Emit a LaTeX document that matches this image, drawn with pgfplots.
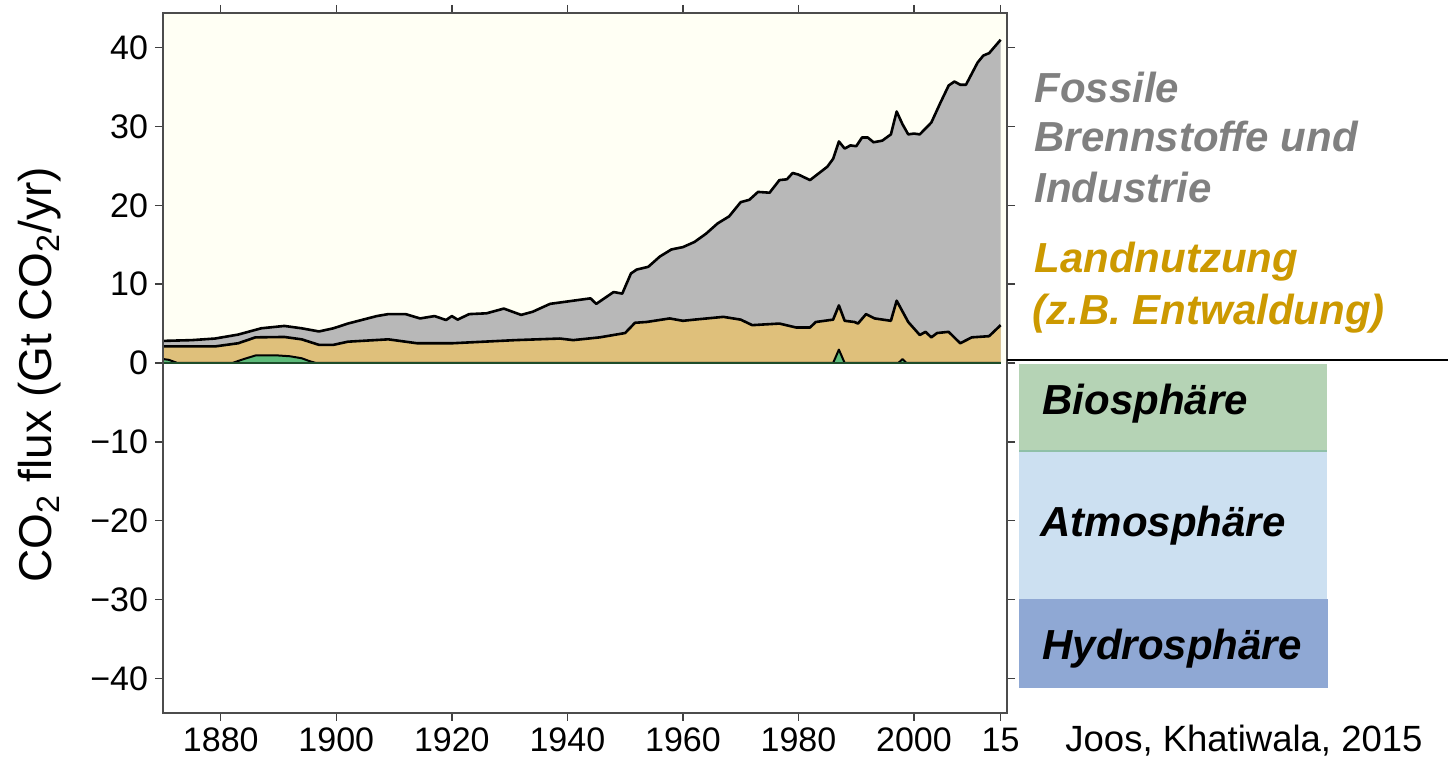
\documentclass[border=0pt]{standalone}
\usepackage{pgfplots}
\pgfplotsset{compat=1.18}
\usepackage{pgfplotstable}
\usepackage{fontspec}
\setmainfont{Liberation Sans}
\definecolor{cream}{HTML}{FFFFF4}
\definecolor{fossil}{HTML}{B8B8B8}
\definecolor{landc}{HTML}{DFC07B}
\definecolor{bioc}{HTML}{5DBB7A}
\definecolor{basec}{HTML}{1E4D2B}
\definecolor{textgray}{HTML}{808080}
\definecolor{gold}{HTML}{CC9900}
\definecolor{boxgreen}{HTML}{B5D3B5}
\definecolor{boxlblue}{HTML}{CCE0F1}
\definecolor{boxblue}{HTML}{8FA8D4}
\definecolor{boxline}{HTML}{8FC0A8}

% total flux (fossil + land use + biosphere)
\pgfplotstableread{
year val
1870 2.8
1875 2.9
1879 3.1
1883 3.6
1887 4.4
1891 4.7
1894 4.4
1897 4.0
1899.5 4.4
1902 5.0
1907 5.95
1909 6.2
1912 6.2
1914.5 5.65
1917 5.95
1919 5.45
1920 5.95
1921 5.5
1923 6.2
1926 6.3
1929 6.9
1932 6.1
1934 6.5
1937 7.5
1940 7.8
1942 8.0
1944 8.2
1945 7.5
1948 9.0
1949.5 8.8
1951 11.35
1952 11.85
1954 12.2
1956 13.5
1958 14.4
1960 14.7
1962 15.35
1964 16.4
1966 17.7
1968 18.6
1970 20.4
1971.5 20.7
1973 21.7
1975 21.6
1976.7 23.2
1978 23.3
1979 24.1
1980 23.9
1982 23.2
1985 24.9
1986 25.9
1987 28.1
1988 27.2
1989 27.6
1990 27.5
1991 28.6
1992 28.6
1993 28.0
1994.5 28.2
1996 29.0
1997 31.9
1998 30.3
1999 29.0
2000 29.1
2001 29.0
2003 30.5
2004.5 32.9
2006 35.2
2007 35.7
2008 35.3
2009 35.3
2010 36.7
2011 38.1
2012 39.0
2013 39.3
2015 41.0
}\totaltab

% land use + biosphere
\pgfplotstableread{
year val
1870 2.1
1879 2.1
1883 2.5
1886 3.25
1891 3.3
1894 3.0
1897 2.3
1899.5 2.3
1902 2.7
1909 3.0
1914 2.5
1920 2.5
1925.5 2.7
1931 2.9
1938.7 3.1
1941 2.9
1945.6 3.25
1950 3.8
1951.7 5.1
1953.7 5.2
1957.7 5.65
1960 5.35
1962 5.5
1967 5.85
1970 5.5
1972 4.8
1976.7 5.0
1979.6 4.5
1982 4.5
1983 5.2
1986 5.5
1987 7.3
1988 5.35
1989.7 5.2
1990.3 5.0
1991.7 6.2
1993.2 5.65
1996 5.35
1997 7.9
1999 5.2
2001 3.55
2002 3.95
2003 3.25
2004 3.8
2006 3.95
2008 2.5
2010 3.25
2013 3.4
2015 4.8
}\landtab

% biosphere
\pgfplotstableread{
year val
1870 0.5
1871 0.4
1872.5 0
1882 0
1884 0.5
1886 0.95
1890 0.95
1892 0.85
1894 0.6
1895.5 0.2
1896.5 0
1986 0
1987 1.7
1988 0
1997.3 0
1998 0.5
1998.7 0
2015 0
}\biotab

\begin{document}
\begin{tikzpicture}
\path[use as bounding box] (0,0) rectangle (725.5pt,384.5pt);
\begin{axis}[
  at={(81.5pt,28pt)}, anchor=south west,
  scale only axis, width=422pt, height=350pt,
  xmin=1870, xmax=2016.1, ymin=-44.4, ymax=44.4,
  axis on top,
  axis line style={black!70, line width=0.8pt},
  tick align=outside,
  tick style={black!75, line width=0.7pt},
  major tick length=4pt,
  xtick={1880,1900,1920,1940,1960,1980,2000,2015},
  xticklabels={1880,1900,1920,1940,1960,1980,2000,15},
  ytick={-40,-30,-20,-10,0,10,20,30,40},
  yticklabels={−40,−30,−20,−10,0,10,20,30,40},
  tick label style={font=\fontsize{17}{20}\selectfont},
  ylabel={CO\textsubscript{2} flux (Gt CO\textsubscript{2}/yr)},
  ylabel style={font=\fontsize{23}{27}\selectfont, at={(axis description cs:-0.1457,0.483)}, anchor=center},
]
\addplot[draw=none, fill=cream] coordinates {(1870,44.4) (2016.1,44.4)} \closedcycle;
\addplot[draw=none, fill=fossil] table[x=year,y=val] {\totaltab} \closedcycle;
\addplot[draw=none, fill=landc] table[x=year,y=val] {\landtab} \closedcycle;
\addplot[black, line width=1.3pt, line join=round] table[x=year,y=val] {\totaltab};
\addplot[draw=none, fill=bioc] table[x=year,y=val] {\biotab} \closedcycle;
\addplot[black, line width=1.3pt, line join=round] table[x=year,y=val] {\landtab};
\addplot[black, line width=1pt, line join=round] table[x=year,y=val] {\biotab};
\addplot[basec, line width=1.2pt] coordinates {(1870,0) (2015,0)};
\end{axis}
\draw[black, line width=0.9pt] (503.5pt,204.5pt) -- (724pt,204.5pt);
\fill[boxgreen] (509.5pt,159pt) rectangle (663.5pt,202.5pt);
\fill[boxlblue] (509.5pt,85pt) rectangle (663.5pt,159pt);
\fill[boxblue] (509.5pt,40.5pt) rectangle (664pt,85pt);
\draw[boxline, line width=0.6pt] (509.5pt,159pt) -- (663.5pt,159pt);
\begin{scope}[every node/.style={anchor=base west, inner sep=0pt, font=\fontsize{21}{25}\selectfont\bfseries\itshape}]
\node[text=textgray] at (517pt,333pt) {Fossile};
\node[text=textgray] at (517pt,308.5pt) {Brennstoffe und};
\node[text=textgray] at (517pt,283pt) {Industrie};
\node[text=gold] at (517pt,248pt) {Landnutzung};
\node[text=gold] at (516pt,222pt) {(z.B. Entwaldung)};
\node at (521pt,177pt) {Biosphäre};
\node at (520pt,116pt) {Atmosphäre};
\node at (521pt,54.5pt) {Hydrosphäre};
\end{scope}
\node[anchor=base west, inner sep=0pt, font=\fontsize{18.25}{22}\selectfont] at (532.5pt,8.5pt) {Joos, Khatiwala, 2015};
\end{tikzpicture}
\end{document}
